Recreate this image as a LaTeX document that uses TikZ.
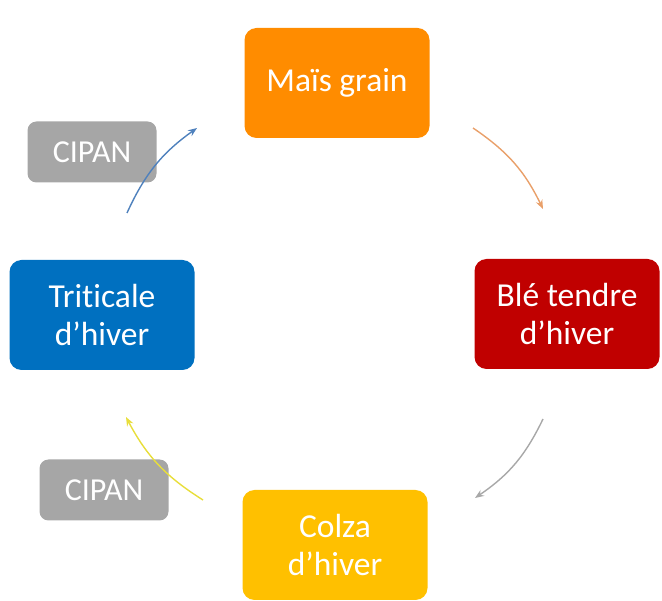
\documentclass[tikz,border=0pt]{standalone}
\usepackage{fontspec}
\setmainfont{Carlito}[Ligatures=NoCommon]
\usepackage{tikz}
\usetikzlibrary{arrows.meta}
\definecolor{maisOrange}{HTML}{FF8C00}
\definecolor{bleRed}{HTML}{C00000}
\definecolor{colzaGold}{HTML}{FFC000}
\definecolor{triBlue}{HTML}{0070C0}
\definecolor{cipanGray}{HTML}{A6A6A6}
\definecolor{arrOrange}{HTML}{E9A06A}
\definecolor{arrGray}{HTML}{A8A8A8}
\definecolor{arrYellow}{HTML}{E8DE3A}
\definecolor{arrBlue}{HTML}{4F81BD}

\begin{document}
\begin{tikzpicture}[
          x=1pt, y=-1pt,
          crop/.style={rectangle, rounded corners=12pt, align=center, text=white,
                       font=\fontsize{33.5}{38}\selectfont,
                       minimum width=185pt, minimum height=110pt, inner sep=0pt},
          cipan/.style={rectangle, rounded corners=9pt, align=center, text=white,
                        fill=cipanGray, font=\fontsize{32}{38}\selectfont,
                        minimum width=129pt, minimum height=61pt, inner sep=0pt},
          flow/.style={line width=1.4pt, -{Stealth[length=9pt,width=7pt]}},
          >=Stealth
        ]
        \useasboundingbox (0,0) rectangle (662,601);
        \node[crop, fill=maisOrange] (mais) at (337,83) {Maïs grain};
        \node[crop, fill=bleRed] (ble) at (567,314) {Blé tendre\\d’hiver};
        \node[crop, fill=colzaGold] (colza) at (335,545) {Colza\\d’hiver};
        \node[crop, fill=triBlue] (triticale) at (102,315) {Triticale\\d’hiver};
        \node[cipan] (cipanA) at (92,152) {CIPAN};
        \node[cipan] (cipanB) at (104,490) {CIPAN};
        % free ends of the curved arrows
        \coordinate (maisOut) at (473,128);  \coordinate (bleIn) at (543,209);
        \coordinate (bleOut) at (543,419);   \coordinate (colzaIn) at (475,498);
        \coordinate (colzaOut) at (203,500); \coordinate (triIn) at (126,417);
        \coordinate (triOut) at (127,213);   \coordinate (maisIn) at (197,128);
        \draw[flow, arrOrange] (maisOut) to[bend left=15] (bleIn);
        \draw[flow, arrGray] (bleOut) to[bend left=15] (colzaIn);
        \draw[flow, arrYellow] (colzaOut) to[bend left=15] (triIn);
        \draw[flow, arrBlue] (triOut) to[bend left=15] (maisIn);
      \end{tikzpicture}
\end{document}
